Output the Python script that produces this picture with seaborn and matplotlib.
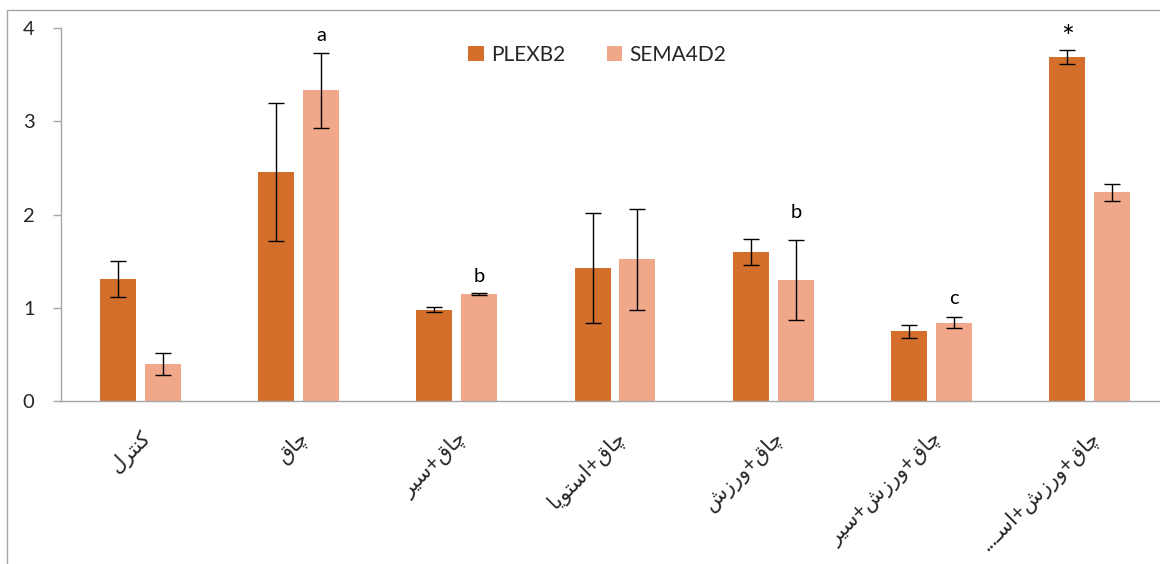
import pandas as pd
import seaborn as sns
import matplotlib.pyplot as plt
from matplotlib.patches import Rectangle

# --- data ---
groups = ['کنترل', 'چاق', 'چاق+سیر', 'چاق+استویا', 'چاق+ورزش',
          'چاق+ورزش+سیر', 'چاق+ورزش+اسـ...']
genes = ['PLEXB2', 'SEMA4D2']
plexb2 = [1.31, 2.46, 0.98, 1.43, 1.60, 0.75, 3.69]
plexb2_err = [0.19, 0.74, 0.03, 0.59, 0.14, 0.07, 0.075]
sema4d2 = [0.40, 3.33, 1.15, 1.52, 1.30, 0.84, 2.24]
sema4d2_err = [0.12, 0.40, 0.01, 0.54, 0.43, 0.06, 0.09]
marks = ['', 'a', 'b', '', 'b', 'c', '*']
mark_gene = ['', 'SEMA4D2', 'SEMA4D2', '', 'SEMA4D2', 'SEMA4D2', 'PLEXB2']
mark_y = [0, 3.92, 1.33, 0, 2.02, 1.10, 3.80]

colors = ['#d36f2b', '#f1a88a']

# minimal Persian shaping (matplotlib has no bidi / joining support)
FORMS = {
    'ا': (0xFE8D, 0xFE8E, None, None),
    'ک': (0xFB8E, 0xFB8F, 0xFB90, 0xFB91),
    'ن': (0xFEE5, 0xFEE6, 0xFEE7, 0xFEE8),
    'ت': (0xFE95, 0xFE96, 0xFE97, 0xFE98),
    'ر': (0xFEAD, 0xFEAE, None, None),
    'ل': (0xFEDD, 0xFEDE, 0xFEDF, 0xFEE0),
    'چ': (0xFB7A, 0xFB7B, 0xFB7C, 0xFB7D),
    'ق': (0xFED5, 0xFED6, 0xFED7, 0xFED8),
    'س': (0xFEB1, 0xFEB2, 0xFEB3, 0xFEB4),
    'ی': (0xFBFC, 0xFBFD, 0xFBFE, 0xFBFF),
    'و': (0xFEED, 0xFEEE, None, None),
    'ز': (0xFEAF, 0xFEB0, None, None),
    'ش': (0xFEB5, 0xFEB6, 0xFEB7, 0xFEB8),
    'ـ': (0x0640, 0x0640, 0x0640, 0x0640),
}


def shape_fa(text):
    out = []
    for i, ch in enumerate(text):
        if ch not in FORMS:
            out.append(ch)
            continue
        iso, fin, ini, med = FORMS[ch]
        prev = text[i - 1] if i > 0 else ''
        nxt = text[i + 1] if i + 1 < len(text) else ''
        join_prev = prev in FORMS and FORMS[prev][2] is not None
        join_next = nxt in FORMS and ini is not None
        if join_prev and join_next:
            code = med
        elif join_prev:
            code = fin
        elif join_next:
            code = ini
        else:
            code = iso
        out.append(chr(code))
    return ''.join(out)[::-1]


df = pd.DataFrame({
    'group': groups * 2,
    'gene': [genes[0]] * len(groups) + [genes[1]] * len(groups),
    'value': plexb2 + sema4d2,
})

sns.set_style('white')
plt.rcParams['font.family'] = ['Lato', 'DejaVu Sans']

fig = plt.figure(figsize=(11.6, 5.64), dpi=100)
ax = fig.add_axes([61 / 1160, 163 / 564, 1108 / 1160, 373 / 564])

sns.barplot(data=df, x='group', y='value', hue='gene', palette=colors,
            width=0.568, gap=0.2, errorbar=None, saturation=1,
            edgecolor='none', ax=ax)

errs = {'PLEXB2': plexb2_err, 'SEMA4D2': sema4d2_err}
centers = {}
for gene, cont in zip(genes, ax.containers):
    xs = [p.get_x() + p.get_width() / 2 for p in cont.patches]
    ys = [p.get_height() for p in cont.patches]
    centers[gene] = xs
    ax.errorbar(xs, ys, yerr=errs[gene], fmt='none', ecolor='black',
                elinewidth=1, capsize=6, capthick=1)

for i, m in enumerate(marks):
    if m == '*':
        ax.text(centers[mark_gene[i]][i], mark_y[i], m, ha='center',
                va='baseline', fontsize=22, color='black')
    elif m:
        ax.text(centers[mark_gene[i]][i], mark_y[i], m, ha='center',
                va='center', fontsize=14.5, color='black')

ax.set_ylim(0, 4)
ax.set_xlim(-0.5, 6.5)
ax.set_yticks([0, 1, 2, 3, 4])
ax.set_xlabel('')
ax.set_ylabel('')

ax.set_xticks(range(len(groups)))
ax.set_xticklabels([shape_fa(g) for g in groups], rotation=45, ha='right',
                   va='top', rotation_mode='anchor', fontsize=15)
ax.tick_params(axis='x', length=0, pad=19)
ax.set_xticks([i - 0.5 for i in range(len(groups) + 1)], minor=True)
ax.tick_params(axis='x', which='minor', length=6, color='#a6a6a6', width=1,
               direction='out')
ax.tick_params(axis='y', labelsize=14.5, length=6, color='#a6a6a6', width=1,
               direction='out', pad=13, left=True)

for side in ['top', 'right']:
    ax.spines[side].set_visible(False)
for side in ['left', 'bottom']:
    ax.spines[side].set_color('#a6a6a6')
    ax.spines[side].set_linewidth(1)

ax.legend(loc='center', bbox_to_anchor=(0.484, 0.928), ncol=2, frameon=False,
          fontsize=15, handlelength=0.75, handleheight=0.75,
          handletextpad=0.35, columnspacing=2.0)

fig.patches.append(Rectangle((7 / 1160, -0.05), 1.1, (564 - 10) / 564 + 0.05,
                             transform=fig.transFigure, fill=False,
                             edgecolor='#a6a6a6', linewidth=1, zorder=-1))

fig.savefig('out.png', dpi=100)
